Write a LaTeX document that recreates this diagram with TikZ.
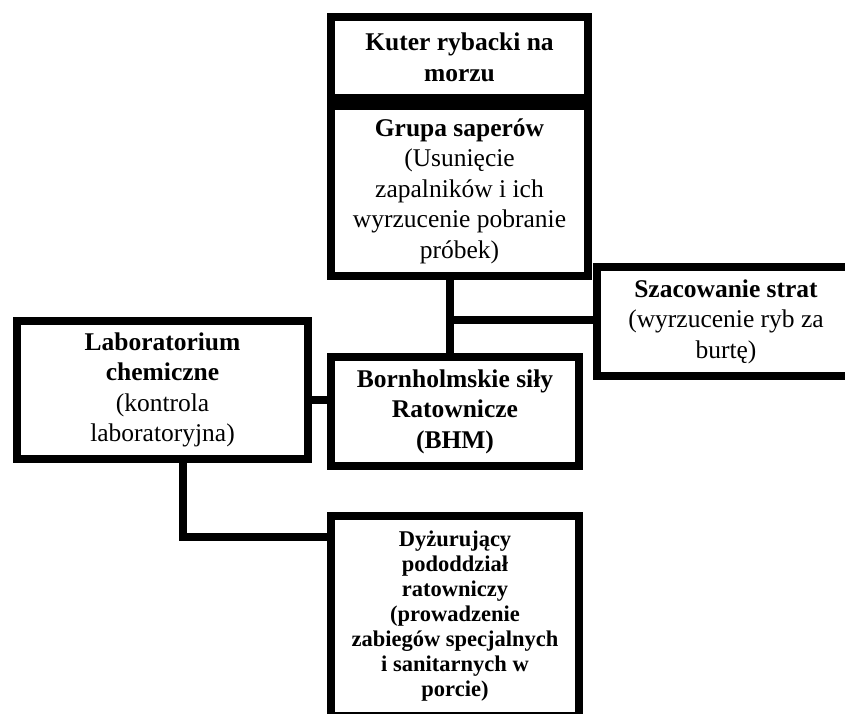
\documentclass[tikz,border=0pt]{standalone}
\usepackage{fontspec}
\setmainfont{Liberation Serif}
\begin{document}
\begin{tikzpicture}[x=1pt,y=-1pt,
  box/.style={draw, line width=8pt, inner sep=0pt, align=center,
    font=\fontsize{25.5}{30.5}\selectfont},
  smallbox/.style={box, font=\fontsize{22.5}{25}\selectfont\bfseries},
  link/.style={line width=7.5pt}]
\useasboundingbox (0,0) rectangle (845,713);
\clip (0,0) rectangle (845,713);

% boxes
\node[box, minimum width=257pt, minimum height=81pt] (kuter) at (459.5,57.5)
  {\textbf{Kuter rybacki na}\\\textbf{morzu}};
\node[box, minimum width=257pt, minimum height=170pt] (grupa) at (459.5,191)
  {\textbf{Grupa saperów}\\(Usunięcie\\zapalników i ich\\wyrzucenie pobranie\\próbek)};
\node[box, minimum width=258pt, minimum height=109pt] (szac) at (726,321.5)
  {\textbf{Szacowanie strat}\\(wyrzucenie ryb za\\burtę)};
\node[box, minimum width=248pt, minimum height=109pt] (born) at (455,411.5)
  {\textbf{Bornholmskie siły}\\\textbf{Ratownicze}\\\textbf{(BHM)}};
\node[box, minimum width=291pt, minimum height=138pt] (lab) at (162.5,390)
  {\textbf{Laboratorium}\\\textbf{chemiczne}\\(kontrola\\laboratoryjna)};
\node[smallbox, minimum width=248pt, minimum height=200pt] (dyz) at (455,616)
  {Dyżurujący\\pododdział\\ratowniczy\\(prowadzenie\\zabiegów specjalnych\\i sanitarnych w\\porcie)};

% junction points of the connectors
\coordinate (j) at (450,320);
\coordinate (m) at (310,400);
\coordinate (k) at (183,537);

% connectors
\draw[link] (grupa.south -| j) -- (born.north -| j);
\draw[link] (j) -- (szac.west |- j);
\draw[link] (lab.east |- m) -- (born.west |- m);
\draw[link] (lab.south -| k) -- (k) -- (dyz.west |- k);
\end{tikzpicture}
\end{document}
